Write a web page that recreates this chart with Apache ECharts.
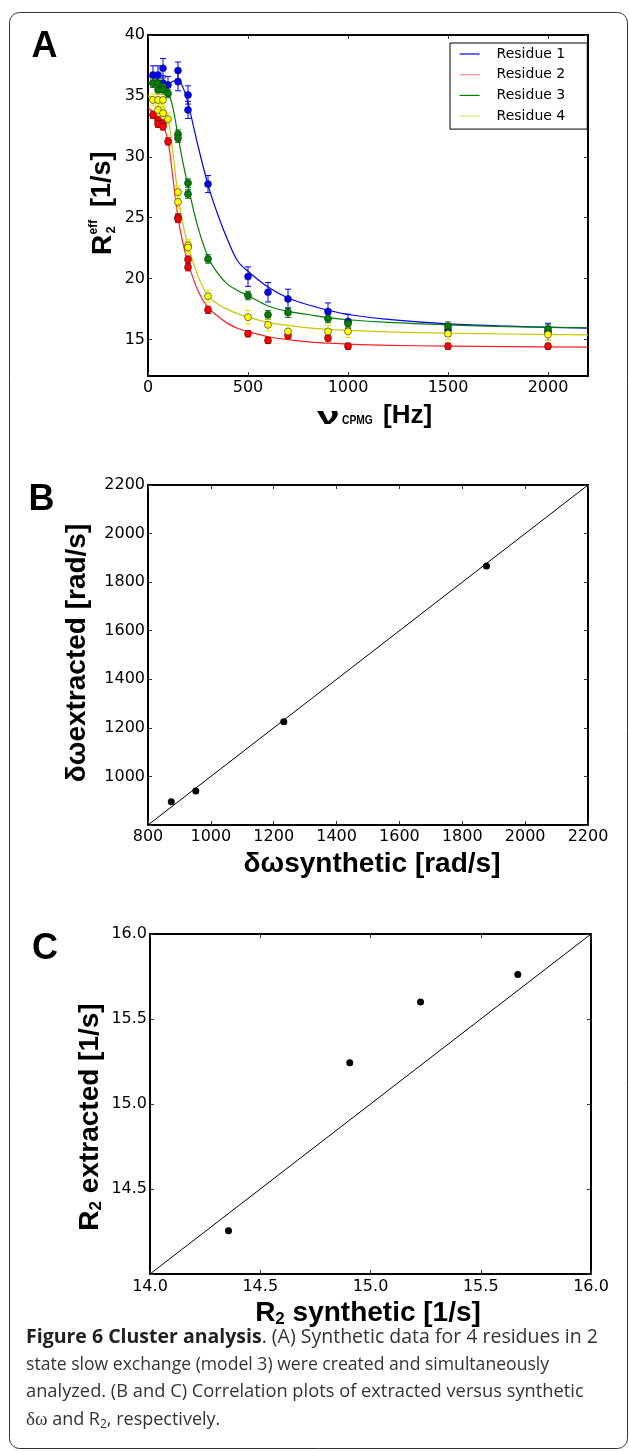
<!DOCTYPE html>
<html><head><meta charset="utf-8">
<script src="https://cdn.jsdelivr.net/npm/echarts@6/dist/echarts.min.js"></script>
<style>html,body{margin:0;padding:0;background:#fff}#c{width:629px;height:1452px}</style>
</head><body><div id="c"></div>
<script>
// ---------- Panel A data ----------
const residueNames = ['Residue 1', 'Residue 2', 'Residue 3', 'Residue 4'];
const nuR1 = [25, 50, 75, 75, 100, 150, 150, 200, 200, 300, 500, 600, 700, 900, 1000, 1500, 2000];
const r2R1 = [36.72, 36.72, 37.27, 36.05, 35.9, 37.08, 36.17, 35.08, 33.85, 27.76, 20.16, 18.88, 18.33, 17.3, 16.48, 15.77, 15.63];
const errR1 = [0.75, 0.75, 0.8, 0.6, 0.7, 0.7, 0.75, 0.75, 0.7, 0.7, 0.8, 0.8, 0.8, 0.7, 0.6, 0.5, 0.7];
const nuR2 = [25, 50, 50, 75, 75, 100, 150, 150, 200, 200, 300, 500, 600, 700, 900, 1000, 1500, 2000];
const r2R2 = [33.44, 33.03, 32.7, 32.76, 32.49, 31.26, 25.03, 24.89, 21.56, 20.93, 17.43, 15.47, 14.92, 15.33, 15.11, 14.45, 14.45, 14.45];
const errR2 = [0.3, 0.3, 0.3, 0.3, 0.3, 0.3, 0.3, 0.3, 0.3, 0.3, 0.3, 0.25, 0.25, 0.25, 0.25, 0.25, 0.25, 0.25];
const nuR3 = [25, 50, 50, 75, 75, 100, 150, 150, 200, 200, 300, 500, 600, 700, 900, 1000, 1500, 2000];
const r2R3 = [36.04, 36.04, 35.5, 35.76, 35.5, 35.2, 31.86, 31.53, 27.84, 26.94, 21.61, 18.61, 17.02, 17.21, 16.72, 16.31, 16.09, 15.85];
const errR3 = [0.35, 0.35, 0.35, 0.35, 0.35, 0.35, 0.35, 0.35, 0.35, 0.35, 0.35, 0.35, 0.35, 0.4, 0.35, 0.35, 0.35, 0.35];
const nuR4 = [25, 50, 50, 75, 75, 100, 150, 150, 200, 200, 300, 500, 600, 700, 900, 1000, 1500, 2000];
const r2R4 = [34.67, 34.67, 33.85, 34.67, 33.58, 33.09, 27.1, 26.29, 22.73, 22.55, 18.55, 16.83, 16.2, 15.66, 15.66, 15.66, 15.47, 15.41];
const errR4 = [0.5, 0.5, 0.5, 0.5, 0.5, 0.5, 0.5, 0.5, 0.5, 0.5, 0.5, 0.55, 0.5, 0.5, 0.5, 0.5, 0.5, 0.5];
// fitted curves
const nuFit  = [0, 25, 50, 75, 100, 125, 150, 175, 200, 250, 300, 350, 400, 450, 500, 600, 700, 800, 900, 1000, 1200, 1500, 1800, 2200];
const fitR1 = [36.6, 36.5, 36.3, 36.1, 36.0, 36.2, 36.3, 35.7, 34.4, 30.9, 27.7, 25.2, 23.1, 21.4, 20.6, 19.3, 18.4, 17.85, 17.4, 17.05, 16.65, 16.28, 16.09, 15.93];
const fitR2 = [34.0, 33.7, 33.3, 32.6, 31.3, 28.2, 25.0, 22.9, 21.3, 19.0, 17.6, 16.9, 16.3, 15.9, 15.65, 15.22, 14.98, 14.8, 14.7, 14.62, 14.52, 14.46, 14.41, 14.37];
const fitR3 = [36.1, 36.0, 35.9, 35.7, 35.3, 34.0, 31.7, 29.5, 27.6, 24.2, 21.8, 20.4, 19.5, 19.0, 18.6, 17.75, 17.3, 17.05, 16.8, 16.62, 16.4, 16.2, 16.06, 15.96];
const fitR4 = [35.0, 34.9, 34.7, 34.2, 33.2, 30.3, 26.8, 24.5, 22.7, 20.2, 18.6, 17.9, 17.45, 17.1, 16.85, 16.4, 16.15, 15.95, 15.83, 15.75, 15.63, 15.52, 15.45, 15.38];
const ticksAX = [0, 500, 1000, 1500, 2000];
const ticksAY = [15, 20, 25, 30, 35, 40];

// ---------- Panel B data ----------
const dwSynthetic = [874, 952, 1232, 1877];
const dwExtracted = [896, 940, 1225, 1866];
const diagB = [800, 2200];
const ticksB = [800, 1000, 1200, 1400, 1600, 1800, 2000, 2200];
const labelsBY = [1000, 1200, 1400, 1600, 1800, 2000, 2200];

// ---------- Panel C data ----------
const r2Synthetic = [14.356, 14.906, 15.227, 15.668];
const r2Extracted = [14.255, 15.243, 15.60, 15.762];
const diagC = [14, 16];
const ticksC = [14, 14.5, 15, 15.5, 16];
const labelsCY = [14.5, 15, 15.5, 16];

// ---------- styling ----------
const TICK_FONT = 'DejaVu Sans';
const TITLE_FONT = 'Liberation Sans';
const lineColors = ['#0000ff', '#ff2020', '#007f00', '#c8c800'];
const legendColors = ['#0000ff', '#ff8a8a', '#007f00', '#e0e070'];
const fillColors = ['#0000ff', '#ff0000', '#008000', '#ffff00'];
const errColors = ['#0000ff', '#ff0000', '#008000', '#e8e800'];

function axes(grid, min, max, ticks, labels, fmt, margin, pos) {
  const common = {
    type: 'value', gridIndex: grid, min: min, max: max,
    axisLine: {show: true, onZero: false, lineStyle: {color: '#000', width: 2}},
    axisTick: {show: true, inside: true, length: 4, customValues: ticks, lineStyle: {color: '#333', width: 1}},
    splitLine: {show: false}
  };
  return [
    Object.assign({}, common, {position: pos[0], axisLabel: {show: true, customValues: labels, formatter: fmt, margin: margin, color: '#000', fontFamily: TICK_FONT, fontSize: 16}}),
    Object.assign({}, common, {position: pos[1], axisLabel: {show: false}})
  ];
}
const f0 = v => String(v);
const f1 = v => Number(v).toFixed(1);

const xAxis = [].concat(
  axes(0, 0, 2200, ticksAX, ticksAX, f0, 4, ['bottom', 'top']),
  axes(1, 800, 2200, ticksB, ticksB, f0, 4, ['bottom', 'top']),
  axes(2, 14, 16, ticksC, ticksC, f1, 5, ['bottom', 'top'])
);
const yAxis = [].concat(
  axes(0, 12, 40, ticksAY, ticksAY, f0, 3, ['left', 'right']),
  axes(1, 800, 2200, ticksB, labelsBY, f0, 3, ['left', 'right']),
  axes(2, 14, 16, ticksC, labelsCY, f1, 3, ['left', 'right'])
);

const nus = [nuR1, nuR2, nuR3, nuR4];
const vals = [r2R1, r2R2, r2R3, r2R4];
const errs = [errR1, errR2, errR3, errR4];
const fits = [fitR1, fitR2, fitR3, fitR4];

const series = [];
fits.forEach((f, k) => {
  series.push({
    type: 'line', name: residueNames[k], xAxisIndex: 0, yAxisIndex: 0,
    data: nuFit.map((x, i) => [x, f[i]]), symbol: 'none', smooth: 0.35,
    lineStyle: {color: lineColors[k], width: 1.2}, itemStyle: {color: lineColors[k]},
    z: 2, silent: true
  });
});
nus.forEach((nu, k) => {
  const col = errColors[k];
  series.push({
    type: 'custom', name: 'err' + k, xAxisIndex: 0, yAxisIndex: 0,
    data: nu.map((x, i) => [x, vals[k][i], errs[k][i]]),
    encode: {x: 0, y: 1}, z: 3, silent: true,
    renderItem: function (params, api) {
      const x = api.value(0), y = api.value(1), e = api.value(2);
      const t = api.coord([x, y + e]), b = api.coord([x, y - e]);
      const w = 3;
      const st = {stroke: col, lineWidth: 1};
      return {type: 'group', children: [
        {type: 'line', shape: {x1: t[0], y1: t[1], x2: b[0], y2: b[1]}, style: st},
        {type: 'line', shape: {x1: t[0] - w, y1: t[1], x2: t[0] + w, y2: t[1]}, style: st},
        {type: 'line', shape: {x1: b[0] - w, y1: b[1], x2: b[0] + w, y2: b[1]}, style: st}
      ]};
    }
  });
  series.push({
    type: 'scatter', name: 'pts' + k, xAxisIndex: 0, yAxisIndex: 0,
    data: nu.map((x, i) => [x, vals[k][i]]), symbol: 'circle', symbolSize: 7,
    itemStyle: {color: fillColors[k], borderColor: '#222', borderWidth: 0.6, opacity: 1}, z: 4, silent: true
  });
});
// Panel B
series.push({type: 'line', name: 'diagB', xAxisIndex: 2, yAxisIndex: 2, data: diagB.map(v => [v, v]), symbol: 'none', lineStyle: {color: '#000', width: 1}, silent: true, z: 2});
series.push({type: 'scatter', name: 'ptsB', xAxisIndex: 2, yAxisIndex: 2, data: dwSynthetic.map((x, i) => [x, dwExtracted[i]]), symbol: 'circle', symbolSize: 7, itemStyle: {color: '#000', opacity: 1}, silent: true, z: 4});
// Panel C
series.push({type: 'line', name: 'diagC', xAxisIndex: 4, yAxisIndex: 4, data: diagC.map(v => [v, v]), symbol: 'none', lineStyle: {color: '#000', width: 1}, silent: true, z: 2});
series.push({type: 'scatter', name: 'ptsC', xAxisIndex: 4, yAxisIndex: 4, data: r2Synthetic.map((x, i) => [x, r2Extracted[i]]), symbol: 'circle', symbolSize: 7, itemStyle: {color: '#000', opacity: 1}, silent: true, z: 4});

const bold = (size) => ({fontFamily: TITLE_FONT, fontWeight: 'bold', fontSize: size, fill: '#000'});
const cap = (s) => ({fontFamily: 'Open Sans', fontSize: s, fill: '#333'});
const capB = (s) => ({fontFamily: 'Open Sans', fontSize: s, fontWeight: 'bold', fill: '#231f20'});

const graphic = [
  {type: 'rect', shape: {x: 9.5, y: 12.5, width: 618, height: 1436, r: 10}, style: {fill: 'none', stroke: '#333', lineWidth: 1}, silent: true, z: 0},
  {type: 'text', x: 44.5, y: 47, style: Object.assign({text: 'A', align: 'center', verticalAlign: 'middle'}, bold(36))},
  {type: 'text', x: 41.5, y: 500, style: Object.assign({text: 'B', align: 'center', verticalAlign: 'middle'}, bold(36))},
  {type: 'text', x: 45, y: 949, style: Object.assign({text: 'C', align: 'center', verticalAlign: 'middle'}, bold(36))},
  // A y label
  {type: 'group', x: 103, y: 203.5, rotation: Math.PI / 2, children: [
    {type: 'text', x: -51.5, y: 0, style: Object.assign({text: 'R', align: 'left', verticalAlign: 'middle'}, bold(28))},
    {type: 'text', x: -31, y: -9, style: Object.assign({text: 'eff', align: 'left', verticalAlign: 'middle'}, bold(12))},
    {type: 'text', x: -30, y: 8, style: Object.assign({text: '2', align: 'left', verticalAlign: 'middle'}, bold(13))},
    {type: 'text', x: -3.5, y: 0, style: Object.assign({text: '[1/s]', align: 'left', verticalAlign: 'middle'}, bold(27))}
  ]},
  // A x label
  {type: 'text', x: 317, y: 417, scaleX: 1.7, style: Object.assign({text: 'ν', align: 'left', verticalAlign: 'middle'}, bold(24))},
  {type: 'text', x: 342, y: 420.5, scaleX: 0.82, style: Object.assign({text: 'CPMG', align: 'left', verticalAlign: 'middle'}, bold(12.5))},
  {type: 'text', x: 383, y: 416, style: Object.assign({text: '[Hz]', align: 'left', verticalAlign: 'middle'}, bold(26))},
  // B labels
  {type: 'text', x: 77, y: 653, rotation: Math.PI / 2, style: Object.assign({text: 'δωextracted [rad/s]', align: 'center', verticalAlign: 'middle'}, bold(28))},
  {type: 'text', x: 372, y: 864, style: Object.assign({text: 'δωsynthetic [rad/s]', align: 'center', verticalAlign: 'middle'}, bold(28))},
  // C labels
  {type: 'text', x: 90, y: 1117, rotation: Math.PI / 2, style: {text: '{b|R}{s|2}{b| extracted [1/s]}', align: 'center', verticalAlign: 'middle',
    rich: {b: bold(28), s: Object.assign({padding: [12, 0, 0, 0]}, bold(17))}}},
  {type: 'text', x: 368, y: 1313, style: {text: '{b|R}{s|2}{b| synthetic [1/s]}', align: 'center', verticalAlign: 'middle',
    rich: {b: bold(28), s: Object.assign({padding: [12, 0, 0, 0]}, bold(17))}}},
  // caption
  {type: 'text', x: 26, y: 1337, style: {text: '{b|Figure 6 Cluster analysis}{r|. (A) Synthetic data for 4 residues in 2}', verticalAlign: 'middle', rich: {b: capB(19.5), r: cap(19.5)}}},
  {type: 'text', x: 26, y: 1365, style: Object.assign({text: 'state slow exchange (model 3) were created and simultaneously', verticalAlign: 'middle'}, cap(17.6))},
  {type: 'text', x: 26, y: 1392, style: Object.assign({text: 'analyzed. (B and C) Correlation plots of extracted versus synthetic', verticalAlign: 'middle'}, cap(18.3))},
  {type: 'text', x: 26, y: 1420, style: {text: '{g|δω}{r| and R}{s|2}{r|, respectively.}', verticalAlign: 'middle',
    rich: {g: {fontFamily: 'Liberation Serif', fontSize: 19, fill: '#333'}, r: cap(18), s: {fontFamily: 'Open Sans', fontSize: 12, fill: '#333', padding: [9, 0, 0, 0]}}}}
];

const option = {
  animation: false,
  backgroundColor: '#fff',
  grid: [
    {left: 148, top: 35, width: 440, height: 341},
    {left: 148, top: 485, width: 440, height: 340},
    {left: 150, top: 934, width: 441, height: 340}
  ],
  xAxis: xAxis,
  yAxis: yAxis,
  legend: {
    left: 450, top: 43, orient: 'vertical', itemWidth: 20, itemHeight: 14, itemGap: 6.7,
    padding: [4, 22, 6, 9], borderColor: '#000', borderWidth: 1, borderRadius: 0, backgroundColor: '#fff',
    selectedMode: false,
    textStyle: {fontFamily: TICK_FONT, fontSize: 14, color: '#000', padding: [0, 0, 0, 12]},
    data: residueNames.map((n, k) => ({name: n, lineStyle: {color: legendColors[k], width: 1.2},
      itemStyle: {color: 'rgba(0,0,0,0)', borderColor: 'rgba(0,0,0,0)', borderWidth: 0}}))
  },
  series: series,
  graphic: graphic
};
const chart = echarts.init(document.getElementById('c'));
chart.setOption(option);
</script>
</body></html>
